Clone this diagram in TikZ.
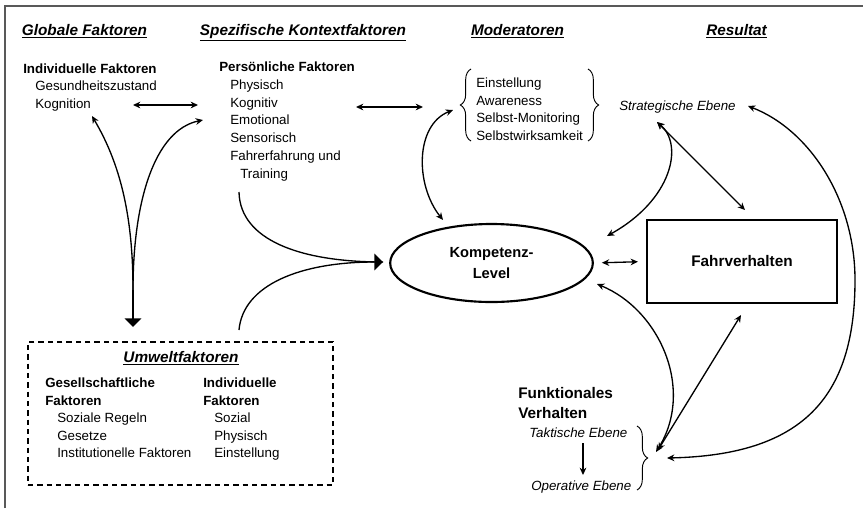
\documentclass[tikz,border=0pt]{standalone}
\usepackage{fontspec}
\setmainfont{Liberation Sans}
\usetikzlibrary{arrows.meta,decorations.pathreplacing,shapes.geometric,calc}
\begin{document}
\begin{tikzpicture}[x=0.75pt,y=-0.75pt,
  >={Stealth[length=5.5pt,width=5pt]},
  con/.style={line width=1pt},
  bigtip/.style={-{Triangle[length=6.5pt,width=12.5pt]}},
  hdr/.style={font=\fontsize{11.5}{14}\selectfont\bfseries\itshape, inner sep=0, anchor=base},
  txt/.style={font=\fontsize{10}{12}\selectfont, inner sep=0, anchor=base west},
  txtb/.style={txt, font=\fontsize{10}{12}\selectfont\bfseries},
  txti/.style={txt, font=\fontsize{10}{12}\selectfont\itshape},
  bigb/.style={font=\fontsize{11.5}{15}\selectfont\bfseries, inner sep=0, anchor=base west},
  brc/.style={decorate, decoration={brace, amplitude=#1}, line width=0.7pt},
]
\useasboundingbox (0,0) rectangle (863,508);
% frame
\draw[black!65, line width=1.5pt] (5,508) -- (5,6) -- (863,6);

% headers
\node[hdr] (h1) at (84.5,35.5) {\underline{Globale Faktoren}};
\node[hdr] (h2) at (303,35.5) {\underline{Spezifische Kontextfaktoren}};
\node[hdr] (h3) at (517.5,35.5) {\underline{Moderatoren}};
\node[hdr] (h4) at (736.5,35.5) {\underline{Resultat}};

% global factors
\node[txtb] (ind) at (23,73) {Individuelle Faktoren};
\node[txt] (ind1) at (35,90) {Gesundheitszustand};
\node[txt] (ind2) at (35,108) {Kognition};

% personal factors
\node[txtb] (pers) at (219,71) {Persönliche Faktoren};
\node[txt] (pers1) at (230,89) {Physisch};
\node[txt] (pers2) at (230,107) {Kognitiv};
\node[txt] (pers3) at (230,124) {Emotional};
\node[txt] (pers4) at (230,142) {Sensorisch};
\node[txt] (pers5) at (230,160) {Fahrerfahrung und};
\node[txt] (pers6) at (240,178) {Training};

% moderators
\node[txt] (mod1) at (476,87) {Einstellung};
\node[txt] (mod2) at (476,105) {Awareness};
\node[txt] (mod3) at (476,122) {Selbst-Monitoring};
\node[txt] (mod4) at (476,140) {Selbstwirksamkeit};
\draw[brc=8pt] (471,141) -- (471,69);
\draw[brc=8pt] (588,69) -- (588,141);

% result
\node[txti] (strat) at (619,110) {Strategische Ebene};
\node[draw, ellipse, line width=1.6pt, minimum width=152pt, minimum height=58.5pt,
      align=center, font=\fontsize{11}{15.5}\selectfont\bfseries] (kl) at (491.5,263) {Kompetenz-\\Level};
\node[draw, rectangle, line width=1.6pt, minimum width=142.5pt, minimum height=62.25pt,
      font=\fontsize{11.5}{14}\selectfont\bfseries] (fv) at (742,261.5) {Fahrverhalten};

% functional behaviour
\node[bigb] (fk1) at (518,398.5) {Funktionales};
\node[bigb] (fk2) at (518,418.5) {Verhalten};
\node[txti] (tak) at (529,437) {Taktische Ebene};
\node[txti] (op) at (531,490) {Operative Ebene};
\draw[brc=8pt] (637,426) -- (637,490);

% environment box
\node[draw, dash pattern=on 4pt off 3pt, line width=1pt, minimum width=228.75pt, minimum height=107.25pt] (uw) at (180.5,413.5) {};
\node[hdr] (uwt) at (181,362.5) {\underline{Umweltfaktoren}};
\node[txtb] (ges1) at (45,387) {Gesellschaftliche};
\node[txtb] (ges2) at (45,405) {Faktoren};
\node[txt] (ges3) at (57,422) {Soziale Regeln};
\node[txt] (ges4) at (57,440) {Gesetze};
\node[txt] (ges5) at (57,457) {Institutionelle Faktoren};
\node[txtb] (iu1) at (203,387) {Individuelle};
\node[txtb] (iu2) at (203,405) {Faktoren};
\node[txt] (iu3) at (214,422) {Sozial};
\node[txt] (iu4) at (214,440) {Physisch};
\node[txt] (iu5) at (214,457) {Einstellung};

% connector end points
\coordinate (a1s) at (133,105); \coordinate (a1e) at (198,105);
\coordinate (a2s) at (356,107); \coordinate (a2e) at (423,107);
\coordinate (J) at (133,290);
\coordinate (kogtip) at (92,116);
\coordinate (emotip) at (203,120);
\coordinate (uwtip) at (133,327);
\coordinate (trs) at (239,192);
\coordinate (uws) at (239,330);
\coordinate (kltip) at (383,262);
\coordinate (klm) at (443,220);
\coordinate (modtip) at (453,110);
\coordinate (st) at (657,122);
\coordinate (klst) at (607,236);
\coordinate (fvst) at (745,210);
\coordinate (stR) at (748,106);
\coordinate (fkR) at (667,458);
\coordinate (klfk) at (597,284);
\coordinate (fkL) at (656,452);
\coordinate (fvb) at (741,315);
\coordinate (fkM) at (658,450);
\coordinate (tk) at (583,443);
\coordinate (ok) at (583,475);

% connectors
\draw[con,<->] (a1s) -- (a1e);
\draw[con,<->] (a2s) -- (a2e);
\draw[con,->] (J) .. controls (133,210) and (118,160) .. (kogtip);
\draw[con,->] (J) .. controls (133,200) and (155,130) .. (emotip);
\draw[con,bigtip] (J) -- (uwtip);
\draw[con] (trs) .. controls (240,240) and (300,262) .. (kltip);
\draw[con,bigtip] (uws) .. controls (243,285) and (300,262) .. (kltip);
\draw[con,<->] (klm) .. controls (415,185) and (415,125) .. (modtip);
\draw[con,<->] (st) .. controls (684,145) and (672,200) .. (klst);
\draw[con,<->] (st) -- (fvst);
\draw[con,<->] (stR) .. controls (810,130) and (855,200) .. (855,280) .. controls (855,400) and (800,455) .. (fkR);
\draw[con,<->] (klfk) .. controls (660,310) and (695,390) .. (fkL);
\draw[con,<->] (fvb) -- (fkM);
\draw[con,<->,shorten <=6pt,shorten >=6pt] (kl.east) -- (fv.west);
\draw[con,->] (tk) -- (ok);
\end{tikzpicture}
\end{document}
